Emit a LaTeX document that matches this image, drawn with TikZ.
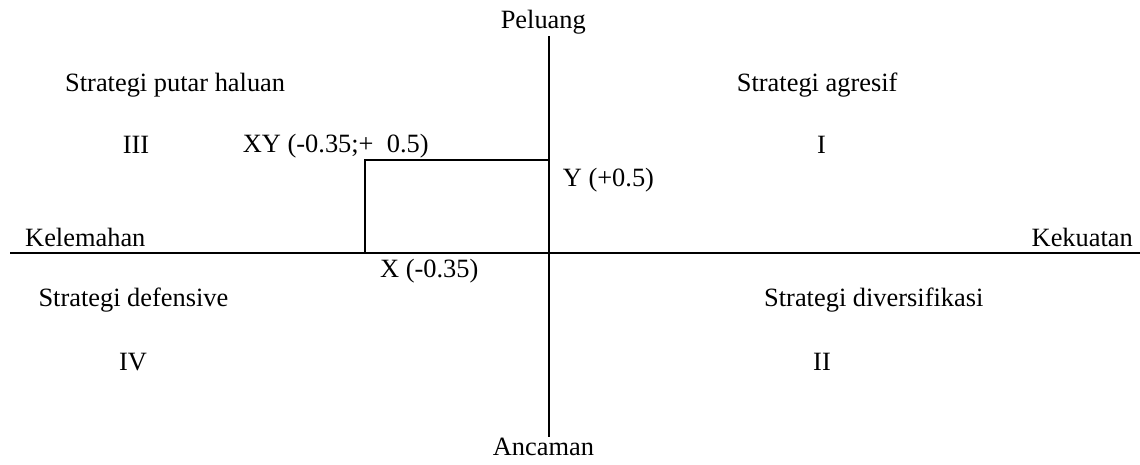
\documentclass[tikz,border=0pt]{standalone}
\usepackage{fontspec}
\setmainfont{Liberation Serif}
\begin{document}
\begin{tikzpicture}[x=1pt,y=-1pt,
  lbl/.style={inner sep=0pt,anchor=base west,font=\fontsize{26.4}{30}\selectfont},
  lblc/.style={inner sep=0pt,anchor=base,font=\fontsize{26.4}{30}\selectfont},
  axis/.style={line width=2pt},
  box/.style={line width=2pt}]
\useasboundingbox (0,0) rectangle (1140,464);
% axes
\coordinate (top) at (549,36);
\coordinate (bot) at (549,437);
\coordinate (left) at (10,252.7);
\coordinate (right) at (1140,252.7);
\coordinate (o) at (549,252.7);
\coordinate (xy) at (365,160);
\coordinate (yp) at (549,160);
\coordinate (xp) at (365,252.7);
\draw[axis] (top) -- (bot);
\draw[axis] (left) -- (right);
\draw[box] (xp) -- (xy) -- (yp);
% axis labels
\node[lblc] (peluang) at (543.3,28.3) {Peluang};
\node[lblc] (ancaman) at (543.4,455) {Ancaman};
\node[lbl] (kelemahan) at (25,246) {Kelemahan};
\node[lbl] (kekuatan) at (1031.5,246) {Kekuatan};
% quadrant labels
\node[lbl] (sph) at (65,91.5) {Strategi putar haluan};
\node[lbl] (sag) at (736.7,91) {Strategi agresif};
\node[lbl] (q3) at (122.7,153) {III};
\node[lbl] (q1) at (817,153) {I};
\node[lbl] (xylbl) at (242.7,152.3) {XY (-0.35;+\ \ 0.5)};
\node[lbl] (ylbl) at (562.7,186.7) {Y (+0.5)};
\node[lbl] (xlbl) at (380,277.7) {X (-0.35)};
\node[lbl] (sdef) at (38.3,306.7) {Strategi defensive};
\node[lbl] (sdiv) at (764,306.7) {Strategi diversifikasi};
\node[lbl] (q4) at (119,370) {IV};
\node[lbl] (q2) at (813,370) {II};
\end{tikzpicture}
\end{document}
